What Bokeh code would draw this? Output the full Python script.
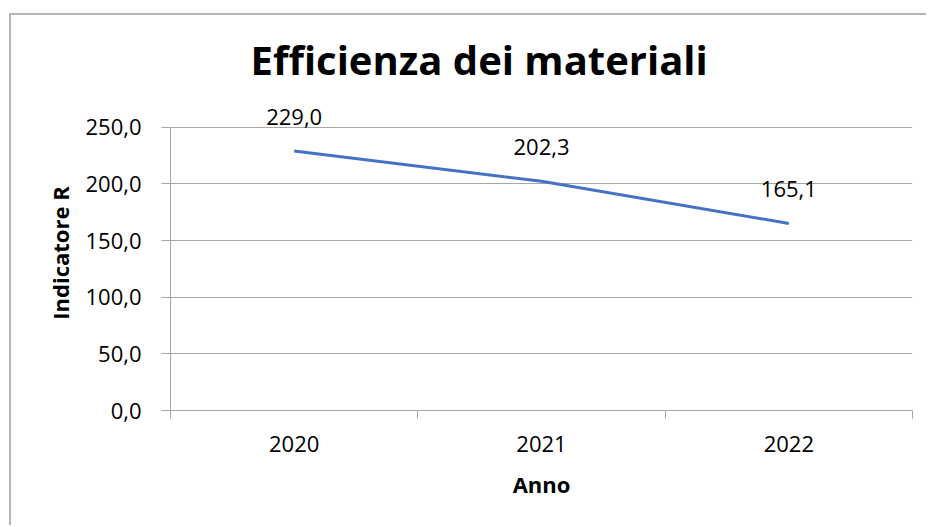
from bokeh.plotting import figure
from bokeh.models import FixedTicker, Range1d, LabelSet, ColumnDataSource
from bokeh.core.properties import value
from bokeh.embed import file_html
from bokeh.resources import INLINE

years = ["2020", "2021", "2022"]
values = [229.0, 202.3, 165.1]
value_labels = ["229,0", "202,3", "165,1"]
y_ticks = [0, 50, 100, 150, 200, 250]
y_tick_labels = ["0,0", "50,0", "100,0", "150,0", "200,0", "250,0"]
title_text = "Efficienza dei materiali"
x_title = "Anno"
y_title = "Indicatore R"

FONT = "Open Sans"
GRAY = "#a6a6a6"
BLUE = "#4472C4"

xs = [i + 0.5 for i in range(len(years))]
src = ColumnDataSource(dict(x=xs, y=values, lab=value_labels))

# headroom above the top tick so the data labels are not clipped
Y_END = 278

p = figure(width=917, height=512, output_backend="svg", toolbar_location=None,
           x_range=Range1d(0, len(years)), y_range=Range1d(0, Y_END),
           min_border_left=159, min_border_right=16, min_border_top=80,
           min_border_bottom=117)
p.styles = {"margin-left": "9px", "margin-top": "13px",
            "border-left": "2px solid #b4b4b4", "border-top": "2px solid #b4b4b4"}

p.line("x", "y", source=src, line_color=BLUE, line_width=3)
p.add_layout(LabelSet(x="x", y="y", text="lab", source=src, y_offset=26,
                      text_align="center", text_baseline="alphabetic",
                      text_font=value(FONT), text_font_size="22px",
                      text_color="#000000"))

p.title.text = title_text
p.title.text_font = FONT
p.title.text_font_size = "40px"
p.title.text_font_style = "bold"
p.title.text_color = "#000000"
p.title.align = "left"
p.title.offset = 80
p.title.standoff = 18

p.outline_line_color = None
p.background_fill_color = "white"
p.border_fill_color = "white"

# y axis
p.yaxis.ticker = FixedTicker(ticks=y_ticks)
p.yaxis.bounds = (y_ticks[0], y_ticks[-1])
p.yaxis.major_label_overrides = {t: l for t, l in zip(y_ticks, y_tick_labels)}
p.yaxis.axis_line_color = GRAY
p.yaxis.major_tick_line_color = GRAY
p.yaxis.major_tick_out = 9
p.yaxis.major_tick_in = 0
p.yaxis.minor_tick_line_color = None
p.yaxis.major_label_standoff = 20
p.yaxis.major_label_text_font = FONT
p.yaxis.major_label_text_font_size = "22px"
p.yaxis.major_label_text_color = "#000000"
p.yaxis.axis_label = y_title
p.yaxis.axis_label_text_font = FONT
p.yaxis.axis_label_text_font_size = "22px"
p.yaxis.axis_label_text_font_style = "bold"
p.yaxis.axis_label_text_color = "#000000"
p.yaxis.axis_label_standoff = 7

# x axis
p.xaxis.ticker = FixedTicker(ticks=xs, minor_ticks=list(range(len(years) + 1)))
p.xaxis.major_label_overrides = {x: y for x, y in zip(xs, years)}
p.xaxis.axis_line_color = GRAY
p.xaxis.major_tick_line_color = None
p.xaxis.major_tick_out = 0
p.xaxis.major_tick_in = 0
p.xaxis.minor_tick_line_color = GRAY
p.xaxis.minor_tick_out = 8
p.xaxis.minor_tick_in = 0
p.xaxis.major_label_standoff = 17
p.xaxis.major_label_text_font = FONT
p.xaxis.major_label_text_font_size = "22px"
p.xaxis.major_label_text_color = "#000000"
p.xaxis.axis_label = x_title
p.xaxis.axis_label_text_font = FONT
p.xaxis.axis_label_text_font_size = "22px"
p.xaxis.axis_label_text_font_style = "bold"
p.xaxis.axis_label_text_color = "#000000"
p.xaxis.axis_label_standoff = 14

p.xgrid.grid_line_color = None
p.ygrid.ticker = FixedTicker(ticks=y_ticks)
p.ygrid.grid_line_color = GRAY
p.ygrid.grid_line_width = 1

open("out.html", "w").write(file_html(p, INLINE))
